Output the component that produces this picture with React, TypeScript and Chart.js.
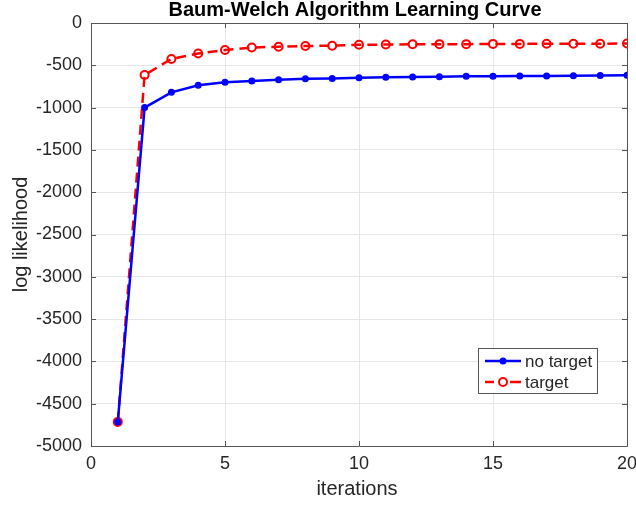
import React, { useEffect, useRef } from "react";
import { Chart, registerables } from "chart.js";

Chart.register(...registerables);

const iterations = [1, 2, 3, 4, 5, 6, 7, 8, 9, 10, 11, 12, 13, 14, 15, 16, 17, 18, 19, 20];
const noTarget = [-4715, -1000, -820, -735, -700, -685, -670, -660, -655, -648, -642, -638, -634, -630, -630, -627, -627, -623, -622, -618];
const target = [-4715, -615, -425, -360, -320, -290, -280, -272, -268, -258, -255, -252, -250, -250, -247, -247, -245, -245, -245, -243];
const xTicks = [0, 5, 10, 15, 20];
const yTicks = [0, -500, -1000, -1500, -2000, -2500, -3000, -3500, -4000, -4500, -5000];

const FONT = "'Liberation Sans', Arial, Helvetica, sans-serif";
const TEXT = "#262626";
const AXIS = "#555555";

const matlabPlugin = {
  id: "matlabDecor",
  beforeDatasetsDraw(chart: any) {
    const { ctx, chartArea: a, scales } = chart;
    const tl = 5;
    ctx.save();
    ctx.strokeStyle = AXIS;
    ctx.lineWidth = 1;
    ctx.beginPath();
    ctx.rect(Math.round(a.left) + 0.5, Math.round(a.top) + 0.5, Math.round(a.right - a.left), Math.round(a.bottom - a.top));
    ctx.stroke();
    ctx.beginPath();
    for (const v of xTicks) {
      const x = Math.round(scales.x.getPixelForValue(v)) + 0.5;
      ctx.moveTo(x, a.bottom);
      ctx.lineTo(x, a.bottom - tl);
      ctx.moveTo(x, a.top);
      ctx.lineTo(x, a.top + tl);
    }
    for (const v of yTicks) {
      const y = Math.round(scales.y.getPixelForValue(v)) + 0.5;
      ctx.moveTo(a.left, y);
      ctx.lineTo(a.left + tl, y);
      ctx.moveTo(a.right, y);
      ctx.lineTo(a.right - tl, y);
    }
    ctx.stroke();
    ctx.restore();
  },
  afterDraw(chart: any) {
    const { ctx, chartArea: a } = chart;
    const cx = (a.left + a.right) / 2;
    ctx.save();
    ctx.fillStyle = "#000";
    ctx.font = `bold 20px ${FONT}`;
    ctx.textAlign = "center";
    ctx.textBaseline = "middle";
    ctx.fillText("Baum-Welch Algorithm Learning Curve", cx - 4, 10);
    ctx.fillStyle = TEXT;
    ctx.font = `20px ${FONT}`;
    ctx.fillText("iterations", cx - 2, 489);
    ctx.save();
    ctx.translate(21, (a.top + a.bottom) / 2);
    ctx.rotate(-Math.PI / 2);
    ctx.fillText("log likelihood", 0, 0);
    ctx.restore();
    // legend
    const lx = 478.5, ly = 348.5, lw = 119, lh = 45;
    ctx.fillStyle = "#fff";
    ctx.fillRect(lx, ly, lw, lh);
    ctx.strokeStyle = AXIS;
    ctx.lineWidth = 1;
    ctx.strokeRect(lx, ly, lw, lh);
    const rows = [
      { label: "no target", color: "#0000ff", dash: [] as number[], filled: true, y: 361 },
      { label: "target", color: "#ff0000", dash: [10, 6], filled: false, y: 382 },
    ];
    for (const r of rows) {
      ctx.strokeStyle = r.color;
      ctx.lineWidth = 2.5;
      ctx.beginPath();
      if (r.dash.length) {
        ctx.moveTo(485, r.y);
        ctx.lineTo(494, r.y);
        ctx.moveTo(510, r.y);
        ctx.lineTo(521, r.y);
      } else {
        ctx.moveTo(485, r.y);
        ctx.lineTo(521, r.y);
      }
      ctx.stroke();
      ctx.beginPath();
      if (r.filled) {
        ctx.arc(503, r.y, 3.5, 0, Math.PI * 2);
        ctx.fillStyle = r.color;
        ctx.fill();
      } else {
        ctx.arc(503, r.y, 4, 0, Math.PI * 2);
        ctx.lineWidth = 2;
        ctx.stroke();
      }
      ctx.fillStyle = TEXT;
      ctx.font = `17px ${FONT}`;
      ctx.textAlign = "left";
      ctx.textBaseline = "middle";
      ctx.fillText(r.label, 525, r.y + 1);
    }
    ctx.restore();
  },
};

export default function App() {
  const ref = useRef<HTMLCanvasElement | null>(null);
  useEffect(() => {
    document.body.style.margin = "0";
    const canvas = ref.current!;
    const chart = new Chart(canvas, {
      type: "line",
      data: {
        datasets: [
          {
            label: "no target",
            data: iterations.map((x, i) => ({ x, y: noTarget[i] })),
            borderColor: "#0000ff",
            backgroundColor: "#0000ff",
            borderWidth: 2.5,
            pointRadius: 3.5,
            pointBorderWidth: 0,
            pointBackgroundColor: "#0000ff",
            tension: 0,
            order: 1,
          },
          {
            label: "target",
            data: iterations.map((x, i) => ({ x, y: target[i] })),
            borderColor: "#ff0000",
            backgroundColor: "rgba(0,0,0,0)",
            borderWidth: 2.5,
            borderDash: [10, 6],
            pointRadius: 4,
            pointBorderWidth: 2,
            pointBorderColor: "#ff0000",
            pointBackgroundColor: "rgba(0,0,0,0)",
            tension: 0,
            order: 2,
          },
        ],
      },
      options: {
        responsive: false,
        animation: false,
        events: [],
        layout: { padding: { top: 23, right: 9, left: 0, bottom: 0 } },
        plugins: {
          legend: { display: false },
          title: { display: false },
          tooltip: { enabled: false },
        },
        scales: {
          x: {
            type: "linear",
            min: 0,
            max: 20,
            afterBuildTicks: (s: any) => {
              s.ticks = xTicks.map((v) => ({ value: v }));
            },
            afterFit: (s: any) => {
              s.height = 60;
              s.paddingLeft = 0;
              s.paddingRight = 0;
            },
            grid: { color: "#e6e6e6", drawTicks: false },
            border: { display: false },
            ticks: { padding: 7, color: TEXT, font: { family: FONT, size: 18 }, maxRotation: 0 },
          },
          y: {
            type: "linear",
            min: -5000,
            max: 0,
            afterBuildTicks: (s: any) => {
              s.ticks = yTicks.map((v) => ({ value: v }));
            },
            afterFit: (s: any) => {
              s.width = 91;
              s.paddingTop = 0;
              s.paddingBottom = 0;
            },
            grid: { color: "#e6e6e6", drawTicks: false },
            border: { display: false },
            ticks: { padding: 9, color: TEXT, font: { family: FONT, size: 18 }, callback: (v: any) => String(v) },
          },
        },
      },
      plugins: [matlabPlugin],
    });
    return () => chart.destroy();
  }, []);
  return (
    <canvas
      ref={ref}
      width={636}
      height={506}
      style={{ position: "absolute", left: 0, top: 0, width: 636, height: 506 }}
    />
  );
}
